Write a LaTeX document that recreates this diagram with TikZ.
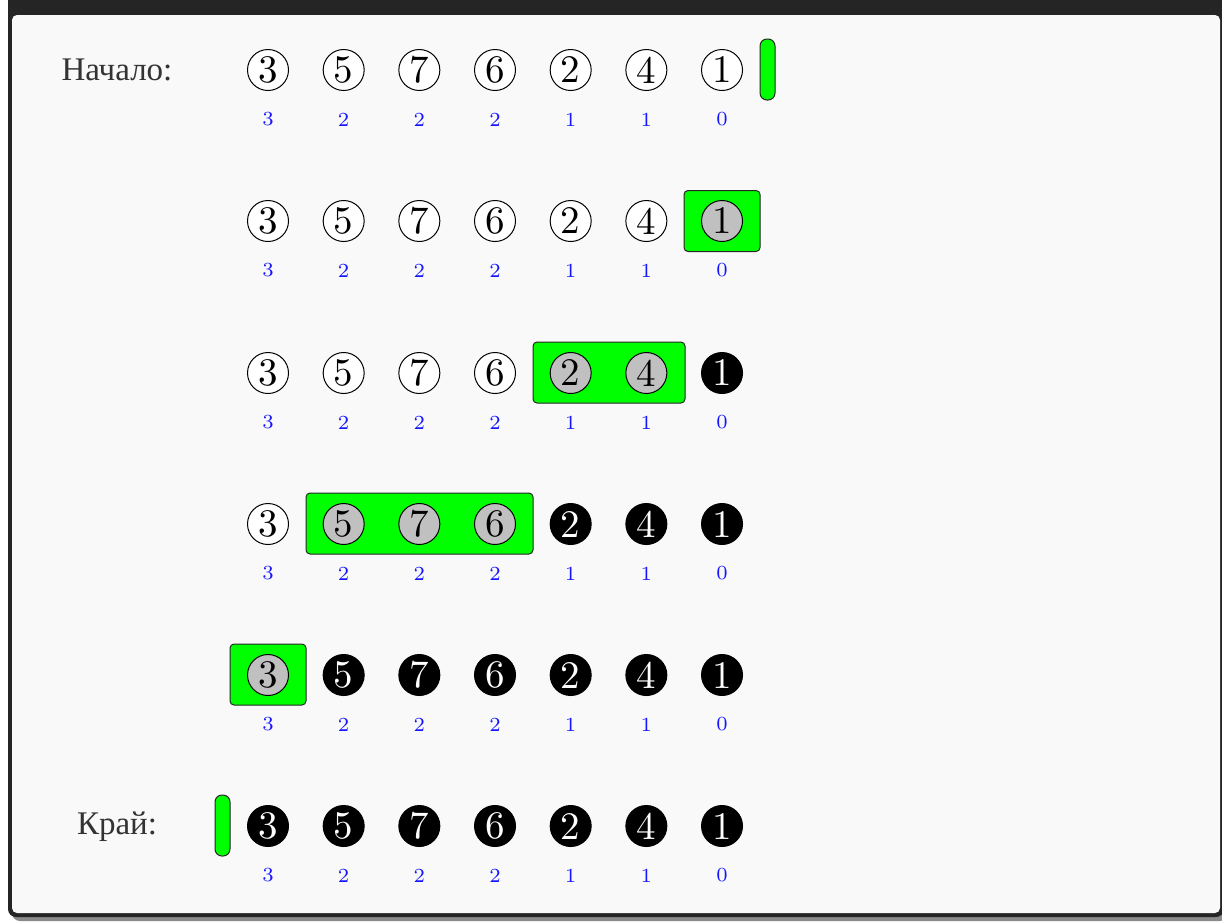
\documentclass[tikz,border=0pt]{standalone}
\usepackage{fontspec}
\newfontfamily\cyr{Liberation Serif}
\newfontfamily\digitfont{lmroman10-regular}[Extension=.otf]
\newfontfamily\smalldigitfont{lmroman7-regular}[Extension=.otf]
\definecolor{framedark}{HTML}{252525}
\definecolor{bodybg}{HTML}{F9F9F9}
\definecolor{shadowgray}{HTML}{8A8A8A}
\definecolor{textgray}{HTML}{333333}
\definecolor{brightgreen}{HTML}{00FF00}
\definecolor{cellgray}{HTML}{C0C0C0}
\definecolor{labblue}{HTML}{1515FF}
\tikzset{
  cbase/.style={circle, draw=black, line width=1pt, minimum size=41pt, inner sep=0pt,
    font=\digitfont\fontsize{39}{39}\selectfont},
  cw/.style={cbase, fill=white, text=black},
  cg/.style={cbase, fill=cellgray, text=black},
  cb/.style={cbase, fill=black, text=white},
  lab/.style={text=labblue, inner sep=0pt, font=\smalldigitfont\fontsize{20}{20}\selectfont},
  rowlabel/.style={text=textgray, inner sep=0pt, font=\cyr\fontsize{33}{33}\selectfont},
  greenbox/.style={fill=brightgreen, draw=framedark, line width=1pt, rounded corners=4pt, inner sep=0pt},
  greenbar/.style={fill=brightgreen, draw=framedark, line width=1pt, rounded corners=7pt, inner sep=0pt,
    minimum width=15pt, minimum height=61pt}
}
\begin{document}
\begin{tikzpicture}[x=1pt,y=-1pt]
\useasboundingbox (0,0) rectangle (1222,922);
\clip (0,0) rectangle (1222,922);
% frame
\fill[shadowgray, rounded corners=8pt] (12,-30) rectangle (1228,921);
\fill[framedark, rounded corners=8pt] (8,-30) rectangle (1224,917);
\fill[bodybg, rounded corners=5pt] (12,15) rectangle (1220,913);
% row labels
\node[rowlabel] (start) at (117,70) {Начало:};
\node[rowlabel] (end) at (117,827) {Край:};
% green markers
\node[greenbar] (barstart) at (767.5,69.5) {};
\node[greenbar] (barend) at (222.5,825.5) {};
\node[greenbox, minimum width=76pt, minimum height=61pt] (box2) at (722,221) {};
\node[greenbox, minimum width=152pt, minimum height=61pt] (box3) at (609,372.5) {};
\node[greenbox, minimum width=227pt, minimum height=61pt] (box4) at (419.5,523.5) {};
\node[greenbox, minimum width=76pt, minimum height=61pt] (box5) at (268,674.5) {};
% circles and labels
\foreach \r/\y/\st in {
  1/70/{cw,cw,cw,cw,cw,cw,cw},
  2/221/{cw,cw,cw,cw,cw,cw,cg},
  3/373/{cw,cw,cw,cw,cg,cg,cb},
  4/524/{cw,cg,cg,cg,cb,cb,cb},
  5/675/{cg,cb,cb,cb,cb,cb,cb},
  6/826/{cb,cb,cb,cb,cb,cb,cb}}{
  \foreach \s [count=\c] in \st {
    \pgfmathtruncatemacro\v{{3,5,7,6,2,4,1}[\c-1]}
    \pgfmathtruncatemacro\l{{3,2,2,2,1,1,0}[\c-1]}
    \pgfmathsetmacro\xx{268+75.67*(\c-1)}
    \node[\s] (n\r-\c) at (\xx,\y) {\v};
    \node[lab] (l\r-\c) at (\xx,\y+49.5) {\l};
  }
}
\end{tikzpicture}
\end{document}
